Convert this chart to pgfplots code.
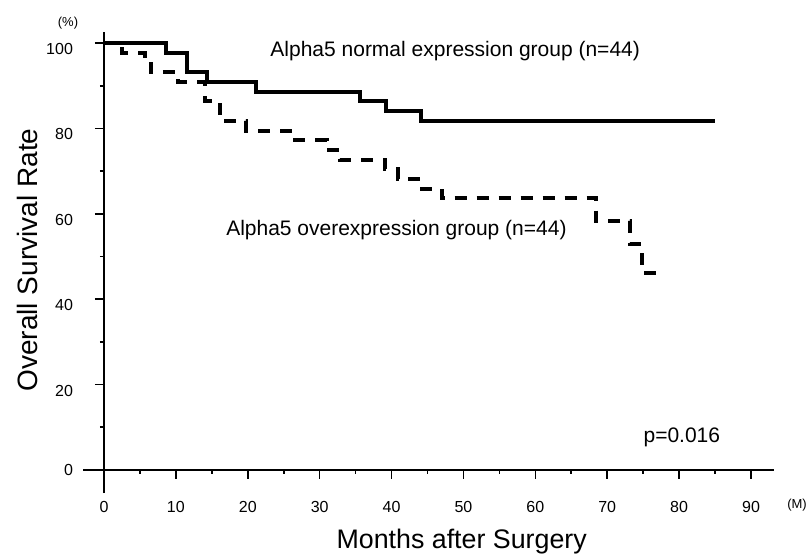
\documentclass[border=0pt]{standalone}
\usepackage{fontspec}
\setmainfont{Liberation Sans}
\usepackage{pgfplots}
\pgfplotsset{compat=1.18}
\begin{document}
\begin{tikzpicture}
\path[use as bounding box] (0pt,0pt) rectangle (404pt,276.5pt);
\begin{axis}[
  at={(41.5pt,30pt)}, anchor=south west,
  scale only axis, width=345.5pt, height=230.5pt,
  xmin=-2.92, xmax=93.2, ymin=-5.4, ymax=102.6,
  axis lines=middle,
  axis line style={-, line width=0.9pt},
  xtick={0,10,...,90}, minor xtick={5,15,...,85},
  ytick={0,20,...,100}, minor ytick={10,30,...,90},
  tick align=outside,
  major tick length=4.5pt, minor tick length=2pt,
  tick style={black, line width=0.8pt},
  ticklabel style={font=\fontsize{8}{10}\selectfont},
  /pgf/number format/assume math mode=true,
  xticklabel style={yshift=-7.5pt},
  yticklabel style={xshift=-7.5pt, yshift=-3pt},
  clip=false,
]
\addplot[const plot, black, line width=2pt] coordinates {
 (0,100) (8.6,97.7) (11.5,93.2) (14.3,90.9) (21.2,88.6) (35.6,86.4) (39.2,84.1) (44.1,81.8) (85,81.8)
};
\addplot[const plot, black, line width=2pt, dash pattern=on 6pt off 5pt] coordinates {
 (0,100) (2.5,97.7) (5.7,95.5) (6.5,93.2) (10.3,90.9) (14.0,86.4) (16.1,81.8) (19.8,79.5) (25.9,77.3) (31.0,75.0) (32.8,72.7) (39.1,70.5) (40.9,68.2) (43.7,65.9) (47.0,63.6) (68.5,58.3) (73.2,53.0) (74.8,46.2) (78.0,46.2)
};
\node[anchor=west, font=\fontsize{10.5}{12}\selectfont, inner sep=0pt] at (axis cs:23.1,98.2) {Alpha5 normal expression group (n=44)};
\node[anchor=east, font=\fontsize{10.5}{12}\selectfont, inner sep=0pt] at (axis cs:64.4,56.3) {Alpha5 overexpression group (n=44)};
\node[anchor=west, font=\fontsize{10.5}{12}\selectfont, inner sep=0pt] at (axis cs:75.0,7.7) {p=0.016};
\node[anchor=north, yshift=-12pt, font=\fontsize{8}{10}\selectfont] at (axis cs:0,0) {0};
\node[anchor=east, xshift=-12pt, font=\fontsize{8}{10}\selectfont] at (axis cs:0,0) {0};
\end{axis}
\node[anchor=base, font=\fontsize{13.4}{15}\selectfont, inner sep=0pt] at (230.85pt,2.5pt) {Months after Surgery};
\node[rotate=90, font=\fontsize{14}{16}\selectfont, inner sep=0pt] at (13.5pt,146.5pt) {Overall Survival Rate};
\node[font=\fontsize{6.5}{8}\selectfont, inner sep=0pt] at (34pt,265pt) {(\%)};
\node[font=\fontsize{6.5}{8}\selectfont, inner sep=0pt] at (398.5pt,24pt) {(M)};
\end{tikzpicture}
\end{document}
